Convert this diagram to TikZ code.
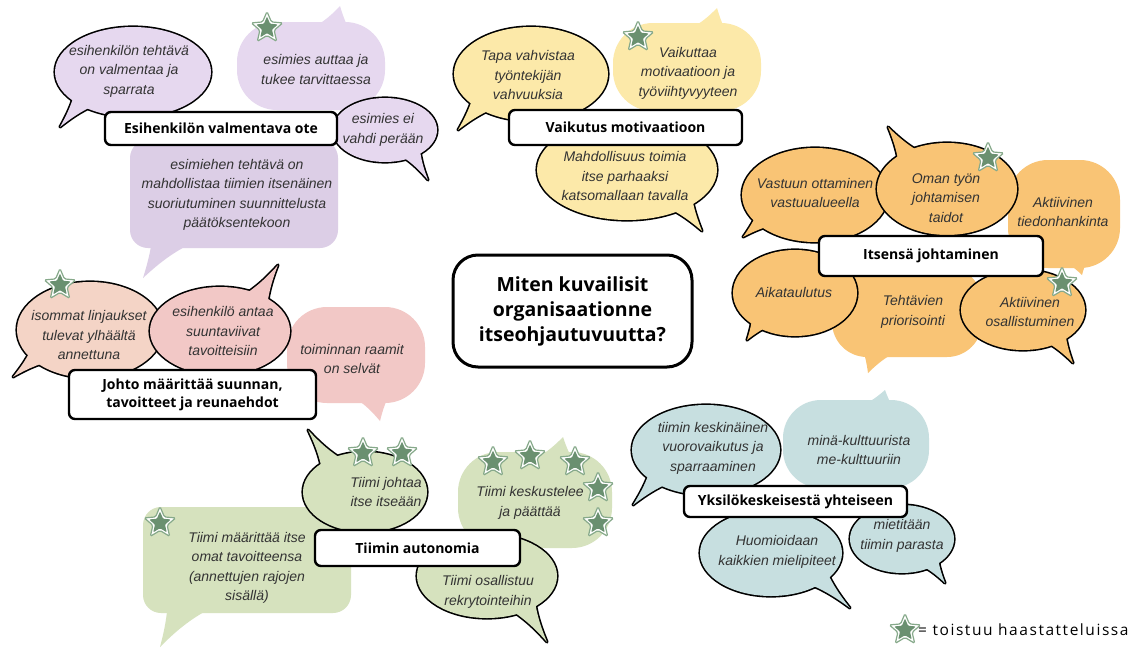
\documentclass[tikz,border=0pt]{standalone}
\usepackage{fontspec}
\setmainfont{Liberation Sans}
\newfontfamily\osans{Open Sans}
\newfontfamily\osanslg{Open Sans}[LetterSpace=10]
\usetikzlibrary{shapes.geometric}
\definecolor{pur}{HTML}{E6D8EF}
\definecolor{purd}{HTML}{DCCEE6}
\definecolor{yel}{HTML}{FCE9A9}
\definecolor{ora}{HTML}{F9C475}
\definecolor{pea}{HTML}{F4D4C6}
\definecolor{pnk}{HTML}{F2C8C6}
\definecolor{grn}{HTML}{D6E2BE}
\definecolor{tea}{HTML}{C7DFE0}
\definecolor{stg}{HTML}{6A9070}
\definecolor{stg2}{HTML}{86A98A}
\definecolor{txtg}{HTML}{333333}
% outlined bubble: color, cx, cy, rx, ry, tipx, tipy
\newcommand\obub[7]{%
  \pgfmathsetmacro\bang{atan2((#7)-(#3),(#6)-(#2))}%
  \pgfmathsetmacro\bax{#2+0.72*#4*cos(\bang-24)}%
  \pgfmathsetmacro\bay{#3+0.72*#5*sin(\bang-24)}%
  \pgfmathsetmacro\bbx{#2+0.72*#4*cos(\bang+24)}%
  \pgfmathsetmacro\bby{#3+0.72*#5*sin(\bang+24)}%
  \draw[line width=3.2pt,line join=round] (#2,#3) ellipse[x radius=#4,y radius=#5];
  \draw[line width=3.2pt,line join=round] (\bax,\bay) to[bend right=8] (#6,#7) to[bend right=8] (\bbx,\bby) -- cycle;
  \fill[#1] (#2,#3) ellipse[x radius=#4,y radius=#5];
  \fill[#1] (\bax,\bay) to[bend right=8] (#6,#7) to[bend right=8] (\bbx,\bby) -- cycle;
}
% plain blob: color, cx, cy, hw, hh, radius, tipx, tipy
\newcommand\ublob[8]{%
  \pgfmathsetmacro\bang{atan2((#8)-(#3),(#7)-(#2))}%
  \pgfmathsetmacro\bax{#2+0.8*#4*cos(\bang-30)}%
  \pgfmathsetmacro\bay{#3+0.8*#5*sin(\bang-30)}%
  \pgfmathsetmacro\bbx{#2+0.8*#4*cos(\bang+30)}%
  \pgfmathsetmacro\bby{#3+0.8*#5*sin(\bang+30)}%
  \fill[#1,rounded corners=#6] ({#2-#4},{#3-#5}) rectangle ({#2+#4},{#3+#5});
  \fill[#1] (\bax,\bay) to[bend right=10] (#7,#8) to[bend right=10] (\bbx,\bby) -- cycle;
}
\newcommand\rstar[3]{%
  \node[star,star points=5,star point ratio=2.2,minimum size=33pt,inner sep=0pt,draw=stg2,line width=1.2pt,fill=white,rounded corners=1.5pt] (#1o) at (#2,#3) {};
  \node[star,star points=5,star point ratio=2.2,minimum size=23pt,inner sep=0pt,fill=stg,rounded corners=1pt] (#1) at (#2,#3) {};
}
\tikzset{
  txt/.style={font=\fontsize{14}{19.5}\selectfont\itshape,text=txtg,align=center,inner sep=0pt},
  lbl/.style={draw=black,line width=2.4pt,fill=white,rounded corners=6pt,font=\osans\bfseries\fontsize{14}{18}\selectfont,text=black,align=center,inner sep=0pt}
}
\begin{document}
\begin{tikzpicture}[x=1pt,y=-1pt]
\useasboundingbox (0,0) rectangle (1138,648);
\fill[white] (0,0) rectangle (1138,648);
% ---------- group A (purple)
\ublob{pur}{311}{66}{74}{44}{40pt}{340}{6}
\ublob{purd}{234}{194}{104}{54}{18pt}{143}{278}
\obub{pur}{133}{72}{78}{45}{60}{127}
\obub{pur}{385}{130}{52}{32}{428}{180}
\rstar{sa}{267}{28}
\node[txt] (ta1) at (129,71) {esihenkilön tehtävä\\on valmentaa ja\\sparrata};
\node[txt] (ta2) at (316,69.5) {esimies auttaa ja\\tukee tarvittaessa};
\node[txt] (ta3) at (383,130) {esimies ei\\vahdi perään};
\node[txt] (ta4) at (237,195) {esimiehen tehtävä on\\mahdollistaa tiimien itsenäinen\\suoriutuminen suunnittelusta\\päätöksentekoon};
\node[lbl,minimum width=232pt,minimum height=33pt] (ba) at (221,128.5) {Esihenkilön valmentava ote};
% ---------- group B (yellow)
\ublob{yel}{687}{67}{74}{44}{40pt}{717}{8}
\obub{yel}{531}{74}{77}{47}{458}{130}
\obub{yel}{627}{170}{90}{50}{702}{231}
\rstar{sb}{638}{37}
\node[txt] (tb1) at (528,75) {Tapa vahvistaa\\työntekijän\\vahvuuksia};
\node[txt] (tb2) at (688,73) {Vaikuttaa\\motivaatioon ja\\työviihtyvyyteen};
\node[txt] (tb3) at (625,176) {Mahdollisuus toimia\\itse parhaaksi\\katsomallaan tavalla};
\node[lbl,minimum width=233pt,minimum height=35pt] (bb) at (625.5,127.5) {Vaikutus motivaatioon};
% ---------- group C (orange)
\ublob{ora}{907}{312}{75}{45}{35pt}{868}{373}
\ublob{ora}{1064}{214}{56}{54}{40pt}{1082}{275}
\obub{ora}{815}{195}{73}{47}{743}{237}
\obub{ora}{947}{189}{70}{46}{888}{127}
\obub{ora}{795}{293}{62}{43}{747}{340}
\obub{ora}{1023}{310}{62}{40}{1073}{363}
\rstar{sc1}{988}{158}
\rstar{sc2}{1062}{283}
\node[txt] (tc1) at (815,193) {Vastuun ottaminen\\vastuualueella};
\node[txt] (tc2) at (946,198) {Oman työn\\johtamisen\\taidot};
\node[txt] (tc3) at (1063,212) {Aktiivinen\\tiedonhankinta};
\node[txt] (tc4) at (794,292) {Aikataulutus};
\node[txt] (tc5) at (913,312) {Tehtävien\\priorisointi};
\node[txt] (tc6) at (1030,312) {Aktiivinen\\osallistuminen};
\node[lbl,minimum width=224pt,minimum height=40pt] (bc) at (931,256) {Itsensä johtaminen};
% ---------- group D (pink)
\ublob{pnk}{356}{355}{69}{48}{40pt}{380}{421}
\obub{pea}{90}{330}{73}{48}{13}{377}
\obub{pnk}{220}{331}{70}{44}{278}{265}
\rstar{sd}{60}{285}
\node[txt] (td1) at (89,335) {isommat linjaukset\\tulevat ylhäältä\\annettuna};
\node[txt] (td2) at (223,331) {esihenkilö antaa\\suuntaviivat\\tavoitteisiin};
\node[txt] (td3) at (352,359) {toiminnan raamit\\on selvät};
\node[lbl,minimum width=247pt,minimum height=49pt] (bd) at (192.5,394.5) {Johto määrittää suunnan,\\tavoitteet ja reunaehdot};
% ---------- group E (green)
\ublob{grn}{247}{560}{104}{53}{18pt}{160}{647}
\ublob{grn}{535}{500}{77}{48}{40pt}{563}{437}
\obub{grn}{365}{492}{62}{40}{308}{430}
\obub{grn}{487}{576}{70}{42}{547}{642}
\rstar{se1}{363}{453}
\rstar{se2}{402}{453}
\rstar{se3}{493}{462}
\rstar{se4}{530}{456}
\rstar{se5}{575}{462}
\rstar{se6}{598}{488}
\rstar{se7}{598}{523}
\rstar{se8}{160}{523}
\node[txt] (te1) at (386,492) {Tiimi johtaa\\itse itseään};
\node[txt] (te2) at (530,503) {Tiimi keskustelee\\ja päättää};
\node[txt] (te3) at (247,568) {Tiimi määrittää itse\\omat tavoitteensa\\(annettujen rajojen\\sisällä)};
\node[txt] (te4) at (488,592) {Tiimi osallistuu\\rekrytointeihin};
\node[lbl,minimum width=205pt,minimum height=36pt] (be) at (417.5,548) {Tiimin autonomia};
% ---------- group F (teal)
\ublob{tea}{856}{444}{73}{44}{38pt}{885}{390}
\obub{tea}{706}{450}{74}{45}{633}{505}
\obub{tea}{771}{553}{71}{43}{850}{608}
\obub{tea}{902}{539}{52}{34}{945}{583}
\node[txt] (tf1) at (713,448) {tiimin keskinäinen\\vuorovaikutus ja\\sparraaminen};
\node[txt] (tf2) at (859,450) {minä-kulttuurista\\me-kulttuuriin};
\node[txt] (tf3) at (777,552) {Huomioidaan\\kaikkien mielipiteet};
\node[txt] (tf4) at (902,536) {mietitään\\tiimin parasta};
\node[lbl,minimum width=223pt,minimum height=31pt] (bf) at (795.5,501.5) {Yksilökeskeisestä yhteiseen};
% ---------- centre
\node[draw=black,line width=3pt,fill=white,rounded corners=25pt,minimum width=239pt,minimum height=112pt,align=center,font=\osans\bfseries\fontsize{19.5}{25}\selectfont,inner sep=0pt] (q) at (572.5,311) {Miten kuvailisit\\organisaationne\\itseohjautuvuutta?};
% ---------- legend
\rstar{sl}{905}{630}
\node[anchor=west,inner sep=0pt,font=\osanslg\fontsize{15.5}{18}\selectfont,text=black] (leg) at (918,630) {= toistuu haastatteluissa};
\end{tikzpicture}
\end{document}
